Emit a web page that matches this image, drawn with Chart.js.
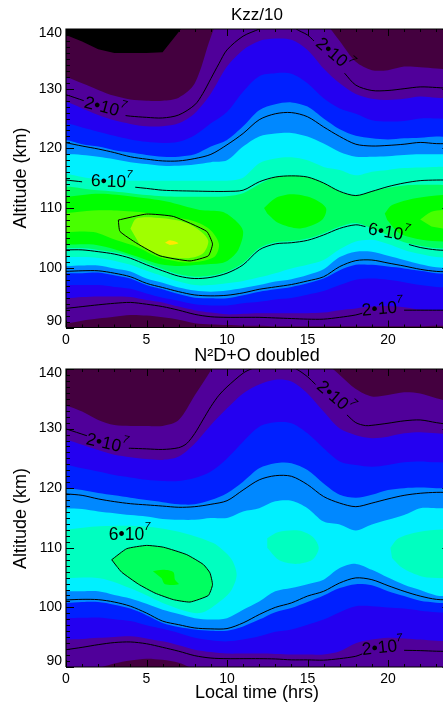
<!DOCTYPE html>
<html><head><meta charset="utf-8">
<script src="https://cdn.jsdelivr.net/npm/chart.js@4"></script>
<style>
html,body{margin:0;padding:0;background:#fff;width:443px;height:707px;overflow:hidden}
canvas{display:block}
</style></head><body>
<div style="position:absolute;left:0;top:0;width:443px;height:347px"><canvas id="a"></canvas></div>
<div style="position:absolute;left:0;top:347px;width:443px;height:360px"><canvas id="b"></canvas></div>
<script>
const hours=[0,1,2,3,4,5,6,7,8,9,10,11,12,13,14,15,16,17,18,19,20,21,22,23,24];
const xTicks=[0,5,10,15,20];
const yTicks=[90,100,110,120,130,140];
const floorAlt=hours.map(()=>85);
const ceilAlt=hours.map(()=>150);

/* Kzz/10 : colour band edges, altitude (km) per hour */
const k_blackEdge=[139,137.9,136.6,136,136,136,136.1,139.5,143,145,145,145,145,145,145,145,145,145,145,145,145,145,145,145,145];
const k_purpleTop=[131.9,130.9,129.8,128.8,128.2,128,128,128.5,130.9,138.7,145,146,146,146,146,145,141.5,138,134.5,133.1,133.1,133.7,133.6,133.4,133.2];
const k_indigoTop=[127.8,126.7,125.6,124.7,124.1,123.7,123.7,124.2,125.9,129.2,133.7,136.5,138,138.4,138.2,136.5,133.4,130.9,129.1,128.3,128.1,128.3,128.7,128.5,128.4];
const k_blueTop=[124.2,123.5,122.8,122.1,121.5,121.1,120.9,121.1,122.2,124.2,126.1,129.5,132.1,132.6,132.5,130.9,128.4,126.7,125.8,124.7,124.5,124.6,125,125,124.9];
const k_midTop=[121.4,120.7,120.3,119.7,119.3,118.9,118.6,118.6,119,120.3,121.4,123.7,126.4,127.4,127.7,127,125,123.2,122.1,121.7,121.5,121.7,121.8,122,121.8];
const k_cyanTop=[119.05,118.9,118.6,118.2,117.7,117.4,117.1,117.1,117.3,117.7,118,120.3,122,122.5,122.6,122,120.8,119.4,118.6,118.6,118.7,118.9,119,119,119];
const k_aquaTop=[115.7,115.2,114.8,114.7,114.6,114.6,114.6,114.6,114.6,114.6,114.6,115.1,117.5,118.3,118.5,118,116.9,116.4,115.5,116.1,116.4,116.7,116.8,116.9,116.9];
const k_springTop=[113.6,113.3,113,112.8,112.5,112.2,112,111.9,111.9,111.9,112,112.5,114,115.2,115.4,115.2,114.2,112.8,112.1,112.8,113.4,113.8,113.9,113.9,113.8];
const k_springLow=[103.3,103.3,103,102.6,101.9,100.8,99.8,98.9,98.5,98.7,99.4,100.8,103.3,104.3,104.5,104.9,105.8,106.9,107.5,106.6,105.5,104.3,103.7,103.3,103.2];
const k_aquaLow=[101.8,101.8,101.65,101.2,100.5,99.5,98.6,97.7,97.1,97.1,97.4,97.8,98.4,99.1,99.9,100.5,101.3,103.1,104.4,104.7,104,103,102.3,101.8,101.65];
const k_cyanLow=[100.3,100.4,100.4,99.9,99.4,98.2,97.5,96.7,96.2,96,96.2,96.6,97.1,97.7,98.1,98.8,99.75,101.8,102.7,102.7,102,101.3,100.6,100.1,100];
const k_midLow=[99.1,99.1,99.2,98.75,98.2,97.1,96.4,95.6,95,94.9,94.9,95.4,96,96.4,96.8,97.4,98.2,99.6,100.5,100.5,100.2,99.9,99.5,99.1,99];
const k_blueLow=[97.1,97.1,97.1,96.8,96.5,95.7,95,94.5,93.9,93.7,93.7,94.05,94.3,94.7,94.95,95.5,96.1,97.1,98,98.2,98,97.6,97.1,96.8,96.7];
const k_indigoLow=[94.9,95.1,95.2,95.2,95.1,94.6,94.2,93.5,92.9,92.5,92.2,92.3,92.4,92.4,92.4,92.4,92.5,92.9,93.2,93.5,93.6,93.4,93,92.9,92.9];
const k_purpleLow=[90.7,91.15,91.5,91.8,92.1,92,91.7,91.3,90.7,90.5,90.4,90.3,90.3,90.2,90.2,90.2,90.2,90.2,90.2,90.2,90.2,90.2,90.2,90.3,90.3];
/* Kzz/10 : closed colour regions [hour, altitude] */
const k_greenHours=[-1,0,2.1,4.2,6.25,8.3,9.7,10.5,11,10.7,10.1,9.7,8.3,7.1,5.84,4.4,3.15,1.7,0,-1];
const k_greenAlts=[111.8,111.9,112.4,111.9,111.1,109.7,109.4,108,106.1,103,101.3,100.8,100.5,100.3,100.6,101.9,103,103.9,103.9,103.9];
const k_green2Hours=[12.3,13,14,15.3,16.15,15.9,14.55,13.2,12.5];
const k_green2Alts=[110,111.65,112.3,111.65,110,108,106.6,107.5,109.1];
const k_green3Hours=[19.8,20.25,21.7,23.4,24.6,24.6,23.4,22.1,20.7,19.95];
const k_green3Alts=[109.1,110.5,111.65,112.2,112.2,104.4,104.4,104.7,105.8,108];
const k_limeHours=[-1,0,1.7,3.15,5,7.7,8.9,9.5,9.2,7.7,5.84,4.4,3.15,1.7,0,-1];
const k_limeAlts=[109.2,109.2,109.6,109.6,109.2,108,106.5,104,101.8,100.9,101.7,103.5,104.6,106,106,106];
const k_lime2Hours=[22,22.7,23.4,24.6,24.6,23.4,22.7];
const k_lime2Alts=[108.1,109.4,109.7,109.7,106.6,106.6,106.9];
const k_c8Hours=[3.25,5,6.67,8.74,9.1,8.84,7.7,5.84,4.4,3.35,3.25];
const k_c8Alts=[108,109,108.6,106.1,104,102,101.15,102,104.1,106.1,108];
const k_chartHours=[4,4.4,6.05,7.5,8.5,8.84,8.5,7.5,5.84,4.6];
const k_chartAlts=[106.6,108.3,108.3,107.5,105.8,104.4,102.4,101.6,102.15,103.8];
const k_yellowHours=[6.15,6.46,6.98,6.46];
const k_yellowAlts=[104.2,104.6,104.1,103.8];
/* Kzz/10 : contour lines */
const k_c2aHours=[0,1.1];
const k_c2aAlts=[129,128];
const k_c2bHours=[3.7,4,5,6,7,8,8.5,9,9.5,10,11,12,13,14,14.3,15,15.4];
const k_c2bAlts=[125.5,125.4,125.2,125.1,125.6,127.3,129.2,131.7,134.2,136.5,138.8,140,141.5,141,140,139,138];
const k_c2cHours=[17.3,18,19,20,21,22,23,24];
const k_c2cAlts=[132.6,130.6,129.7,129.7,130,130.3,130.2,130];
const k_c4Top=[120.95,120.4,119.9,119.3,118.6,118.2,117.9,117.9,118.3,119,120.6,122.5,124.8,125.8,126,125.3,123.6,122,120.7,120.4,120.5,120.7,121,120.8,120.8];
const k_c6aHours=[0,1];
const k_c6aAlts=[114.7,114.4];
const k_c6bHours=[4.3,5,6,7,8,9,10,11,12,13,14,15,16,17,18,19,20,21,22,23,24];
const k_c6bAlts=[113.5,113.3,113,112.9,112.85,112.8,112.8,113,114.4,115.2,115.4,115.2,114.2,112.8,112.1,112.8,113.6,114.2,114.6,114.7,114.7];
const k_c6cHours=[0,1,2,3,4,5,6,7,8,9,10,11,12,13,14,15,16,17,18,18.6];
const k_c6cAlts=[103,103,102.7,102.3,101.6,100.5,99.5,98.6,98.2,98.4,99.1,100.5,103,104,104.2,104.6,105.5,106.6,107.2,106.9];
const k_c6dHours=[21.3,22,23,24];
const k_c6dAlts=[103.9,103.4,103,102.9];
const k_c4Low=[99.4,99.5,99.5,99.1,98.5,97.4,96.7,96,95.45,95.3,95.4,95.8,96.4,96.8,97.2,97.8,98.5,100.2,101.2,101.3,100.8,100.3,99.75,99.4,99.3];
const k_c2dHours=[0,1,2,3,4,5,6,7,8,9,10,11,12,13,14,15,16,17,18,18.4];
const k_c2dAlts=[93.2,93.5,93.8,94.05,94.2,93.9,93.5,92.9,92.2,91.8,91.7,91.7,91.7,91.6,91.5,91.4,91.4,91.7,92.1,92.4];
const k_c2eHours=[21,22,23,24];
const k_c2eAlts=[92.9,92.9,92.9,92.9];

/* N2D+O doubled */
const n_purpleTop=[133.85,132.85,131.45,130.6,130.45,130.45,130.45,131.45,135.6,139.8,145,146,146,146,146,145,141.5,139,136.65,135.4,135.65,136.1,135.9,135.1,134.5];
const n_indigoTop=[128.1,127.3,126.4,125.6,125.2,124.9,124.75,125.3,127.5,130.6,133.4,135.9,137.4,138.2,137.9,135.9,132.85,130,128.9,128.4,128.65,129.2,129.4,129.2,129.05];
const n_blueTop=[123.9,123.35,122.8,122.2,121.8,121.4,121.2,121.2,121.7,122.8,125,127.8,130.3,131.05,130.9,129.2,126.7,124.5,123.9,123.6,123.9,124.35,124.5,124.35,124.3];
const n_midTop=[120,119.7,119.2,118.8,118.4,118,117.65,117.3,117.3,118,119.15,121.1,123.35,124.2,124.2,123.05,120.8,118.9,118.4,118.9,119.7,120,120.1,120,120];
const n_cyanTop=[116.65,116.5,116.1,115.8,115.5,115.25,114.85,114.7,114.7,115,115,116.1,116.65,117.8,117.9,116.65,114.4,113.9,112.9,113.9,114.7,115.5,116.65,116.65,116.65];
const n_cyanLow=[102.7,102.7,102.7,102.1,101.5,100.6,99.6,98.9,98.2,97.95,98.2,99.6,101,102.7,103.25,103.9,104.65,106.6,107.3,106.3,105,103.8,102.9,102,101.9];
const n_midLow=[100.75,100.9,100.9,100.45,99.8,98.7,97.4,96.7,96.3,96.1,96.1,96.8,97.95,99.2,99.9,100.9,102,103.25,103.9,103.7,102.7,101.9,101.1,100.8,100.7];
const n_blueLow=[98.2,98.25,98.3,98,97.7,97,96.4,95.7,94.9,94.5,94.3,94.6,95.15,95.9,96.3,97.1,97.95,99.2,100.2,100.2,100,99.8,99.45,99.2,99.05];
const n_indigoLow=[94.6,94.7,94.9,95.05,95.15,94.8,94.3,93.65,92.9,92.5,92.25,92.25,92.25,92.2,92.1,92.1,92.1,92.65,94,94.6,94.9,94.8,94.6,94.4,94.3];
const n_purpleLow=[89,89,89.8,90.6,91.1,91.4,91.2,90.7,89.6,89,89,89,89,89,89,89,89,89,89,89,89,89,89,89,89];
const n_aquaHours=[-1,0,2.1,4.8,7.3,9.15,9.7,10.3,10.6,10.3,9.7,8.3,6.25,4.2,2.1,0,-1];
const n_aquaAlts=[113.05,113.05,113.6,113.6,112.5,110.8,109.7,108,105.5,103,101.3,99.05,100.5,103,104.9,104.9,104.9];
const n_aqua2Hours=[12.5,13.2,14.45,15.3,15.7,15.3,14.25,13.2,12.5];
const n_aqua2Alts=[111.6,112.65,112.9,111.9,110,108,107.3,108,110];
const n_aqua3Hours=[20.15,20.65,21.9,23.4,24.6,24.6,23.4,22.1,20.9,20.25];
const n_aqua3Alts=[110,111.6,112.65,113.05,113.05,104.9,104.9,105.2,106.6,108.3];
const n_springHours=[2.84,3.77,5,6.05,7.5,8.53,8.94,9.1,8.84,7.7,6.67,5.53,4.5,3.46,3.15,2.84];
const n_springAlts=[108,109.85,110.4,110.1,108.85,107.2,105.8,103.8,102,100.9,101.3,102.4,103.9,105.9,106.9,108];
const n_greenHours=[5.4,6.05,6.67,6.77,7,6.15,5.94];
const n_greenAlts=[106.05,106.3,105.9,104.65,103.9,103.9,104.9];
const n_c2aHours=[0,1.3];
const n_c2aAlts=[129.95,128.8];
const n_c2bHours=[3.9,4,5,6,7,7.5,8,8.5,9,9.5,10,11,11.5,13,14.3,15,15.5];
const n_c2bAlts=[126.7,126.7,126.6,126.5,126.8,127.5,129.2,131.45,133.7,135.6,137,139.3,140,141.5,140,138.7,137.4];
const n_c2cHours=[17.45,18,18.6,19,20,21,22,23,24];
const n_c2cAlts=[132.3,131,130.5,130.55,130.9,131.3,131.45,131,130.6];
const n_c4Top=[119.05,118.8,118.2,117.75,117.4,117.2,117,116.8,116.9,117.3,117.9,119.7,121.4,122.1,122,120.6,118.6,117.5,116.9,117.5,118.2,118.8,119.15,119.3,119.3];
const n_c4Low=[101.25,101.35,101.3,100.9,100.2,99.05,97.7,97.1,96.55,96.4,96.45,97.4,98.8,100,100.75,101.9,102.7,104.1,104.95,104.65,103.65,102.7,101.9,101.35,101.25];
const n_c2dHours=[0,1,2,3,4,5,6,7,8,9,10,11,12,13,14,15,16,17,18,18.4];
const n_c2dAlts=[92.9,93.3,93.75,94.1,94.2,93.9,93.3,92.65,91.9,91.5,91.4,91.4,91.4,91.35,91.2,91.2,91.15,91.4,91.8,92.2];
const n_c2eHours=[21,22,23,24];
const n_c2eAlts=[92.8,92.75,92.65,92.6];

const C={black:'#000000',dark:'#44003f',purple:'#50009a',indigo:'#2400f0',blue:'#0020ff',mid:'#0088ff',cyan:'#00f0ff',aqua:'#00ffc0',spring:'#00ff60',green:'#00ff00',lime:'#48ff00',chart:'#a0ff00',yellow:'#ffe800'};
const XMAX=23.416;

function band(up,low){
  const last=hours.length-1;
  const p=[{x:-1,y:up[0]}];
  hours.forEach((h,i)=>p.push({x:h,y:up[i]}));
  p.push({x:25,y:up[last]},{x:25,y:low[last]});
  for(let i=last;i>=0;i--)p.push({x:hours[i],y:low[i]});
  p.push({x:-1,y:low[0]});
  return p;
}
function poly(xs,ys){return xs.map((x,i)=>({x:x,y:ys[i]}));}
const SMOOTH=0.3;
function area(pts,color,t){return{data:pts,showLine:true,fill:'shape',backgroundColor:color,borderWidth:0,borderColor:color,pointRadius:0,tension:t===undefined?SMOOTH:t,capBezierPoints:false};}
function line(pts,t){return{data:pts,showLine:true,fill:false,borderColor:'#000',borderWidth:1,pointRadius:0,tension:t===undefined?SMOOTH:t,capBezierPoints:false};}
function grid(ys){return hours.map((h,i)=>({x:h,y:ys[i]}));}

const kData=[
 area(band(ceilAlt,floorAlt),C.black,0),
 area(band(k_blackEdge,floorAlt),C.dark,0),
 area(band(k_purpleTop,k_purpleLow),C.purple),
 area(band(k_indigoTop,k_indigoLow),C.indigo),
 area(band(k_blueTop,k_blueLow),C.blue),
 area(band(k_midTop,k_midLow),C.mid),
 area(band(k_cyanTop,k_cyanLow),C.cyan),
 area(band(k_aquaTop,k_aquaLow),C.aqua),
 area(band(k_springTop,k_springLow),C.spring),
 area(poly(k_greenHours,k_greenAlts),C.green),
 area(poly(k_green2Hours,k_green2Alts),C.green),
 area(poly(k_green3Hours,k_green3Alts),C.green),
 area(poly(k_limeHours,k_limeAlts),C.lime),
 area(poly(k_lime2Hours,k_lime2Alts),C.lime),
 area(poly(k_chartHours,k_chartAlts),C.chart),
 area(poly(k_yellowHours,k_yellowAlts),C.yellow),
 line(poly(k_c2aHours,k_c2aAlts)),line(poly(k_c2bHours,k_c2bAlts)),line(poly(k_c2cHours,k_c2cAlts)),
 line(grid(k_c4Top)),line(poly(k_c6aHours,k_c6aAlts)),line(poly(k_c6bHours,k_c6bAlts)),
 line(poly(k_c8Hours,k_c8Alts),0.15),line(poly(k_c6cHours,k_c6cAlts)),line(poly(k_c6dHours,k_c6dAlts)),
 line(grid(k_c4Low)),line(poly(k_c2dHours,k_c2dAlts)),line(poly(k_c2eHours,k_c2eAlts))
];
const nData=[
 area(band(ceilAlt,floorAlt),C.dark,0),
 area(band(n_purpleTop,n_purpleLow),C.purple),
 area(band(n_indigoTop,n_indigoLow),C.indigo),
 area(band(n_blueTop,n_blueLow),C.blue),
 area(band(n_midTop,n_midLow),C.mid),
 area(band(n_cyanTop,n_cyanLow),C.cyan),
 area(poly(n_aquaHours,n_aquaAlts),C.aqua),
 area(poly(n_aqua2Hours,n_aqua2Alts),C.aqua),
 area(poly(n_aqua3Hours,n_aqua3Alts),C.aqua),
 area(poly(n_springHours,n_springAlts),C.spring,0.15),
 area(poly(n_greenHours,n_greenAlts),C.green),
 line(poly(n_c2aHours,n_c2aAlts)),line(poly(n_c2bHours,n_c2bAlts)),line(poly(n_c2cHours,n_c2cAlts)),
 line(grid(n_c4Top)),line(poly(n_springHours,n_springAlts),0.15),line(grid(n_c4Low)),
 line(poly(n_c2dHours,n_c2dAlts)),line(poly(n_c2eHours,n_c2eAlts))
];

const FONT='"Liberation Sans",Arial,sans-serif';
function contourLabel(ctx,o){
  ctx.save();
  ctx.translate(o.px,o.py);ctx.rotate(o.rot*Math.PI/180);
  ctx.font='17.5px '+FONT;ctx.fillStyle='#000';ctx.textBaseline='middle';ctx.textAlign='left';
  const w=ctx.measureText(o.text).width;
  ctx.fillText(o.text,-(w+7)/2,0);
  ctx.font='italic 11px '+FONT;
  ctx.fillText(o.sup,-(w+7)/2+w,-8);
  ctx.restore();
}
function makeDecor(cfg){return{
  id:'decor',
  afterDatasetsDraw(ch){
    const ctx=ch.ctx,a=ch.chartArea,sx=ch.scales.x,sy=ch.scales.y;
    ctx.save();
    ctx.strokeStyle='#000';ctx.lineWidth=1;
    const seg=(x1,y1,x2,y2)=>{ctx.beginPath();ctx.moveTo(x1,y1);ctx.lineTo(x2,y2);ctx.stroke();};
    const right=sx.getPixelForValue(24);
    for(let h=0;h<=24;h++){
      const x=Math.round(sx.getPixelForValue(h))+.5,l=h%5===0?7:3;
      if(x>ch.width)continue;
      seg(x,a.bottom,x,a.bottom-l);seg(x,a.top,x,a.top+l);
    }
    for(let v=90;v<=140;v+=1){
      const y=Math.round(sy.getPixelForValue(v))+.5,maj=v%10===0;
      seg(a.left,y,a.left+(maj?8:4),y);
      if(maj)seg(right,y,right-10,y);
    }
    ctx.lineWidth=1.2;
    ctx.beginPath();ctx.moveTo(a.left,a.bottom);ctx.lineTo(a.left,a.top);ctx.lineTo(a.right,a.top);ctx.stroke();
    seg(a.left,a.bottom,a.right,a.bottom);
    ctx.fillStyle='#000';
    /* y tick labels */
    ctx.font='14px '+FONT;ctx.textAlign='right';ctx.textBaseline='middle';
    yTicks.forEach(v=>{
      const dy=v===140?4:v===90?-6:0;
      ctx.fillText(String(v),62,sy.getPixelForValue(v)+dy);
    });
    /* title */
    ctx.font=cfg.titleSize+'px '+FONT;ctx.textAlign='center';ctx.textBaseline='middle';
    ctx.fillText(cfg.title,cfg.titleX,cfg.titleY);
    /* axis titles */
    ctx.save();ctx.translate(21,cfg.yTitleY);ctx.rotate(-Math.PI/2);ctx.font='18px '+FONT;
    ctx.fillText('Altitude (km)',0,0);ctx.restore();
    if(cfg.xTitle){ctx.font='18px '+FONT;ctx.fillText(cfg.xTitle,257,cfg.xTitleY);}
    ctx.restore();
    cfg.labels.forEach(o=>contourLabel(ctx,o));
  }
};}
function makeChart(id,data,h,top,plotH,cfg){
  return new Chart(document.getElementById(id),{
    type:'scatter',
    data:{datasets:data.slice().reverse()},
    plugins:[makeDecor(cfg)],
    options:{
      responsive:false,animation:false,
      devicePixelRatio:1,
      layout:{padding:{left:0,right:0,top:top,bottom:0}},
      plugins:{legend:{display:false},tooltip:{enabled:false},title:{display:false}},
      scales:{
        x:{type:'linear',min:0,max:XMAX,
           afterBuildTicks(s){s.ticks=xTicks.map(v=>({value:v}));},
           afterFit(s){s.height=h-top-plotH;},
           grid:{display:false,drawTicks:false},border:{display:false},
           ticks:{autoSkip:false,maxRotation:0,padding:4,font:{family:'Liberation Sans',size:14},color:'#000'}},
        y:{type:'linear',min:90,max:140,
           afterBuildTicks(s){s.ticks=yTicks.map(v=>({value:v}));},
           afterFit(s){s.width=66;},
           grid:{display:false},border:{display:false},
           ticks:{display:false}}
      }
    }
  });
}
function size(id,w,h){const c=document.getElementById(id);c.width=w;c.height=h;c.style.width=w+'px';c.style.height=h+'px';}
size('a',443,347);size('b',443,360);
makeChart('a',kData,347,29,298.5,{title:'Kzz/10',titleSize:17,titleX:257,titleY:15,yTitleY:178,
  labels:[
   {px:105,py:108,rot:15,text:'2•10',sup:'7'},
   {px:334,py:55,rot:40,text:'2•10',sup:'7'},
   {px:112,py:182,rot:2,text:'6•10',sup:'7'},
   {px:389,py:233,rot:10,text:'6•10',sup:'7'},
   {px:383,py:309,rot:-5,text:'2•10',sup:'7'}
  ]});
makeChart('b',nData,360,22,298,{title:'N²D+O doubled',titleSize:18,titleX:257,titleY:9,yTitleY:171.5,xTitle:'Local time (hrs)',xTitleY:346,
  labels:[
   {px:107,py:97,rot:13,text:'2•10',sup:'7'},
   {px:335,py:51,rot:40,text:'2•10',sup:'7'},
   {px:130,py:188,rot:0,text:'6•10',sup:'7'},
   {px:383,py:301,rot:-6,text:'2•10',sup:'7'}
  ]});
</script></body></html>
